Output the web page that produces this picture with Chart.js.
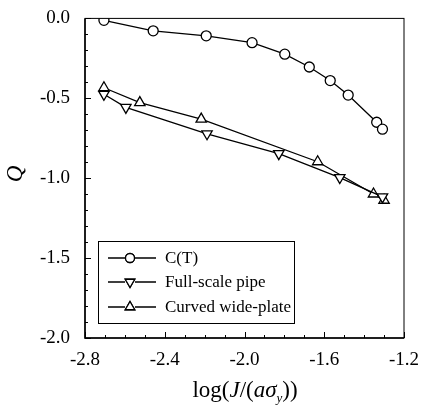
<!DOCTYPE html>
<html>
<head>
<meta charset="utf-8">
<script src="https://cdn.jsdelivr.net/npm/chart.js@4"></script>
<style>
  html, body { margin: 0; padding: 0; background: #fff; }
  #wrap { width: 425px; height: 409px; position: relative; }
</style>
</head>
<body>
<div id="wrap"><canvas id="chart" width="425" height="409"></canvas></div>
<script>
// data
const ctX = [-2.705, -2.458, -2.192, -1.962, -1.798, -1.675, -1.57, -1.48, -1.337, -1.308];
const ctY = [-0.012, -0.078, -0.109, -0.152, -0.224, -0.304, -0.389, -0.48, -0.65, -0.693];

const pipeX = [-2.705, -2.595, -2.188, -1.828, -1.522, -1.308];
const pipeY = [-0.475, -0.557, -0.722, -0.846, -0.996, -1.117];

const plateX = [-2.705, -2.525, -2.217, -1.633, -1.353, -1.3];
const plateY = [-0.434, -0.527, -0.63, -0.897, -1.099, -1.138];

const seriesNames = ["C(T)", "Full-scale pipe", "Curved wide-plate"];

const serif = "'Liberation Serif', 'DejaVu Serif', serif";

function toPoints(xs, ys) {
  return xs.map((x, i) => ({ x: x, y: ys[i] }));
}

function makeSet(label, xs, ys, style, rot, radius) {
  return {
    label: label,
    data: toPoints(xs, ys),
    showLine: true,
    borderColor: "#000",
    borderWidth: 1.3,
    backgroundColor: "#fff",
    pointStyle: style,
    pointRotation: rot,
    pointRadius: radius,
    pointBorderColor: "#000",
    pointBackgroundColor: "#fff",
    pointBorderWidth: 1.3,
    tension: 0,
  };
}

// frame, inward ticks, legend box and axis titles
const decorations = {
  id: "decorations",
  afterDraw(chart) {
    const c = chart.ctx;
    const a = chart.chartArea;
    const xs = chart.scales.x;
    const ys = chart.scales.y;
    c.save();
    c.strokeStyle = "#000";
    c.lineWidth = 1;
    c.strokeRect(a.left, a.top, a.right - a.left, a.bottom - a.top);

    // x ticks, minor every 0.1
    for (let i = 0; i <= 16; i++) {
      const v = -2.8 + i * 0.1;
      const px = Math.round(xs.getPixelForValue(v)) + 0.5;
      const len = i % 4 === 0 ? 6 : 3;
      c.beginPath();
      c.moveTo(px, a.bottom);
      c.lineTo(px, a.bottom - len);
      c.stroke();
    }
    // y ticks, minor every 0.1
    for (let i = 0; i <= 20; i++) {
      const v = -2.0 + i * 0.1;
      const py = Math.round(ys.getPixelForValue(v)) + 0.5;
      const len = i % 5 === 0 ? 6 : 3;
      c.beginPath();
      c.moveTo(a.left, py);
      c.lineTo(a.left + len, py);
      c.stroke();
    }
    c.lineWidth = 1.5;
    c.beginPath();
    c.moveTo(a.left, a.top);
    c.lineTo(a.left, a.bottom);
    c.lineTo(a.right, a.bottom);
    c.stroke();

    // legend
    c.lineWidth = 1;
    c.strokeRect(98.5, 241.5, 196, 82);
    const rows = [258, 282, 307];
    const styles = ["circle", "triangle", "triangle"];
    const rots = [0, 180, 0];
    c.font = "17px " + serif;
    c.fillStyle = "#000";
    c.textBaseline = "middle";
    rows.forEach((y, i) => {
      c.lineWidth = 1.3;
      c.beginPath();
      c.moveTo(108, y);
      c.lineTo(125, y);
      c.moveTo(135, y);
      c.lineTo(156, y);
      c.stroke();
      Chart.helpers.drawPoint(c, {
        pointStyle: styles[i], rotation: rots[i], radius: i === 0 ? 4.5 : 5.5, borderWidth: 1.3,
      }, 130, y);
      c.fillStyle = "#fff";
      c.fill();
      c.stroke();
      c.fillStyle = "#000";
      c.fillText(seriesNames[i], 165, y + 1);
    });

    // x title: log(J/(a sigma_y))
    c.textBaseline = "alphabetic";
    const base = 397;
    const parts = [
      ["log(", "23px " + serif, 0],
      ["J", "italic 23px " + serif, 0],
      ["/(", "23px " + serif, 0],
      ["a\u03c3", "italic 23px " + serif, 0],
      ["y", "italic 13px " + serif, 5],
      ["))", "23px " + serif, 0],
    ];
    let total = 0;
    parts.forEach((p) => { c.font = p[1]; total += c.measureText(p[0]).width; });
    let x = 245 - total / 2;
    parts.forEach((p) => {
      c.font = p[1];
      c.fillText(p[0], x, base + p[2]);
      x += c.measureText(p[0]).width;
    });

    // y title
    c.save();
    c.translate(22, 174);
    c.rotate(-Math.PI / 2);
    c.font = "italic 23px " + serif;
    c.textAlign = "center";
    c.fillText("Q", 0, 0);
    c.restore();
    c.restore();
  },
};

new Chart(document.getElementById("chart"), {
  type: "scatter",
  data: {
    datasets: [
      makeSet(seriesNames[0], ctX, ctY, "circle", 0, 5),
      makeSet(seriesNames[1], pipeX, pipeY, "triangle", 180, 6),
      makeSet(seriesNames[2], plateX, plateY, "triangle", 0, 6),
    ],
  },
  options: {
    responsive: false,
    animation: false,
    layout: { padding: { top: 13, right: 21, left: 0, bottom: 0 } },
    plugins: { legend: { display: false }, tooltip: { enabled: false } },
    scales: {
      x: {
        type: "linear",
        min: -2.8,
        max: -1.2,
        grid: { display: false },
        border: { display: false },
        ticks: {
          stepSize: 0.4,
          padding: 3,
          color: "#000",
          font: { family: serif, size: 19 },
          callback: (v) => v.toFixed(1),
        },
        afterFit: (s) => { s.height = 71; },
      },
      y: {
        min: -2.0,
        max: 0.0,
        grid: { display: false },
        border: { display: false },
        ticks: {
          stepSize: 0.5,
          padding: 7,
          color: "#000",
          font: { family: serif, size: 19 },
          callback: (v) => v.toFixed(1),
        },
        afterFit: (s) => { s.width = 85; },
      },
    },
  },
  plugins: [decorations],
});
</script>
</body>
</html>
